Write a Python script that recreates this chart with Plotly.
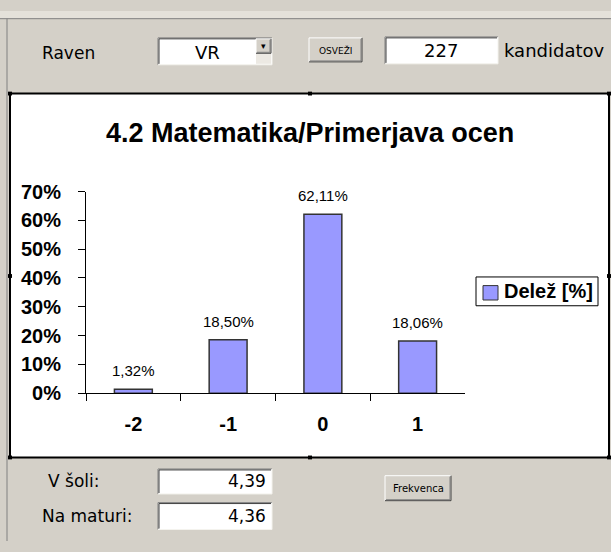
import plotly.graph_objects as go

# data
categories = ['-2', '-1', '0', '1']
shares = [1.32, 18.50, 62.11, 18.06]
series_name = 'Delež [%]'
chart_title = '4.2 Matematika/Primerjava ocen'
level = 'VR'
candidates = '227'
school_grade = '4,39'
matura_grade = '4,36'

W, H = 611, 552
ARIAL = 'Arial, Liberation Sans, sans-serif'
UI = 'Tahoma, DejaVu Sans, sans-serif'
GRAY = '#D4D0C8'


def px(x):
    return x / W


def py(y):
    return 1 - y / H


shapes = []
annotations = []


def rect(x0, y0, x1, y1, fill, line=None, lw=1):
    shapes.append(dict(type='rect', xref='paper', yref='paper',
                       x0=px(x0), x1=px(x1), y0=py(y1), y1=py(y0),
                       fillcolor=fill, line=dict(color=line or fill, width=lw if line else 0),
                       layer='below'))


def hline(x0, x1, y, color, lw=1, layer='below'):
    shapes.append(dict(type='line', xref='paper', yref='paper', x0=px(x0), x1=px(x1),
                       y0=py(y), y1=py(y), line=dict(color=color, width=lw), layer=layer))


def vline(x, y0, y1, color, lw=1, layer='below'):
    shapes.append(dict(type='line', xref='paper', yref='paper', x0=px(x), x1=px(x),
                       y0=py(y0), y1=py(y1), line=dict(color=color, width=lw), layer=layer))


def text(s, x, y, size, xanchor='left', family=UI, weight='normal'):
    annotations.append(dict(text=s, xref='paper', yref='paper', x=px(x), y=py(y),
                            xanchor=xanchor, yanchor='middle', showarrow=False,
                            font=dict(family=family, size=size, color='black', weight=weight)))


def sunken(x0, y0, x1, y1):
    rect(x0, y0, x1, y1, 'white')
    hline(x0, x1, y0, '#808080')
    vline(x0, y0, y1, '#808080')
    hline(x0 + 1, x1 - 1, y0 + 1, '#404040')
    vline(x0 + 1, y0 + 1, y1 - 1, '#404040')
    hline(x0, x1, y1, '#F4F3EE')
    vline(x1, y0, y1, '#F4F3EE')


def button(x0, y0, x1, y1):
    rect(x0, y0, x1, y1, GRAY)
    hline(x0, x1, y0, 'white')
    vline(x0, y0, y1, 'white')
    hline(x0, x1, y1, '#404040')
    vline(x1, y0, y1, '#404040')
    hline(x0 + 1, x1 - 1, y1 - 1, '#808080')
    vline(x1 - 1, y0 + 1, y1 - 1, '#808080')


# form frame
rect(0, 0, W, 8, '#E4E1DA')
hline(0, W, 8, '#808080')
vline(7, 8, H, '#808080')

# top controls
text('Raven', 40, 44, 17)
sunken(158, 28, 272, 56)
rect(256, 44, 271, 55, '#ECE9E3')
button(256, 29, 271, 44)
text('▾', 263.5, 36, 9, xanchor='center')
text(level, 207, 43, 18, xanchor='center')
button(309, 28, 362, 53)
text('OSVEŽI', 335.5, 41, 9, xanchor='center')
sunken(385, 27, 498, 55)
text(candidates, 441, 41, 18, xanchor='center')
text('kandidatov', 502, 41, 18)

# chart area
rect(10, 86, 609, 465, 'white')
hline(9, 610, 86, 'black', 2)
hline(9, 610, 465, 'black', 2)
vline(10, 85, 466, 'black', 2)
vline(609, 85, 466, 'black', 2)
for hx, hy in [(10, 86), (310, 86), (609, 86), (10, 276), (609, 276), (10, 465), (310, 465), (609, 465)]:
    rect(hx - 2, hy - 2, hx + 2, hy + 2, 'black')

text(chart_title, 310, 127, 27, xanchor='center', family=ARIAL, weight='bold')

# legend box
rect(476, 277, 598, 307, 'white', 'black', 1)
rect(483, 286, 498, 301, '#9999FF', '#333333', 1)
text(series_name, 502, 292, 20, family=ARIAL, weight='bold')

# bottom controls
text('V šoli:', 46, 489, 17)
sunken(158, 477, 272, 503)
text(school_grade, 268, 489, 17, xanchor='right')
text('Na maturi:', 40, 526, 17)
sunken(158, 512, 272, 540)
text(matura_grade, 268, 526, 17, xanchor='right')
button(385, 484, 451, 510)
text('Frekvenca', 418, 497, 10, xanchor='center')

# value labels above the bars (x given as category index)
for i, v in enumerate(shares):
    annotations.append(dict(x=i, y=v / 100, xref='x', yref='y', text=f'{v:.2f}%'.replace('.', ','),
                            showarrow=False, yanchor='bottom', yshift=8,
                            font=dict(family=ARIAL, size=15, color='black')))

fig = go.Figure(go.Bar(
    x=categories, y=[v / 100 for v in shares], width=0.4,
    marker=dict(color='#9999FF', line=dict(color='#333333', width=1.5)),
    name=series_name, showlegend=False, hoverinfo='skip',
))

fig.update_layout(
    width=W, height=H, margin=dict(l=0, r=0, t=0, b=0),
    paper_bgcolor=GRAY, plot_bgcolor='rgba(0,0,0,0)',
    shapes=shapes, annotations=annotations,
    xaxis=dict(domain=[px(86), px(465)], type='category', tickson='boundaries',
               range=[-0.5, len(categories) - 0.5],
               ticks='outside', ticklen=7, tickcolor='black', showline=True,
               linecolor='black', linewidth=1, showgrid=False, ticklabelstandoff=13,
               tickfont=dict(family=ARIAL, size=20, color='black', weight='bold')),
    yaxis=dict(domain=[py(398), py(188)], range=[0, 0.7], dtick=0.1, tickformat='.0%',
               ticks='outside', ticklen=7, tickcolor='black', showline=True,
               linecolor='black', linewidth=1, showgrid=False, zeroline=False,
               ticklabelstandoff=13,
               tickfont=dict(family=ARIAL, size=20, color='black', weight='bold')),
)

# drop the browser's default body margin so the figure sits at the page corner
fig.write_html('out.html', config={'displayModeBar': False},
               post_script="document.body.style.margin='0';")
